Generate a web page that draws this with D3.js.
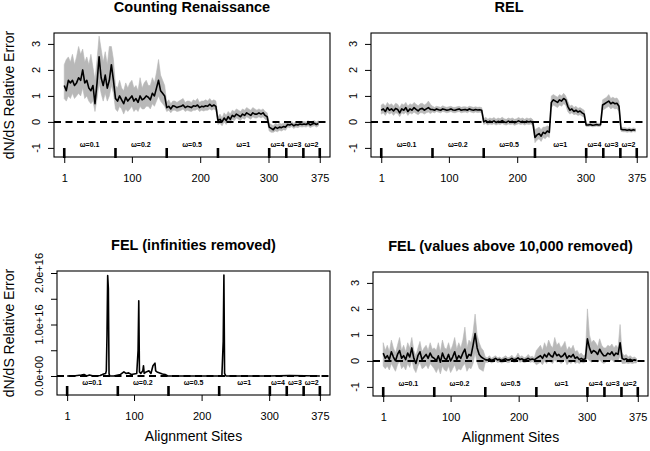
<!DOCTYPE html>
<html><head><meta charset="utf-8">
<script src="https://cdn.jsdelivr.net/npm/d3@7"></script>
<style>body{margin:0;background:#fff}svg{display:block;font-family:"Liberation Sans",Arial,Helvetica,sans-serif}</style>
</head><body><svg id="c" width="650" height="451"></svg>
<script>
// ---- data ----
const sites = d3.range(1, 376, 3); // 125 sampled alignment sites
const xTickSites = [1, 100, 200, 300, 375];
const boundarySites = [1, 76, 151, 226, 301, 326, 351, 375];
const omegaLabels = ["ω=0.1", "ω=0.2", "ω=0.5", "ω=1", "ω=4", "ω=3", "ω=2"];
const omegaMidSites = [38, 113, 188, 263, 313, 338, 363];
const yTicks = [-1, 0, 1, 2, 3];
const felTicks = [0, 0.5e16, 1e16, 1.5e16, 2e16];
const felTickLabels = ["0.0e+00", "", "1.0e+16", "", "2.0e+16"];
const titles = ["Counting Renaissance", "REL", "FEL (infinities removed)", "FEL (values above 10,000 removed)"];

// Counting Renaissance
const crMed = [1.4,1.2,1.6,1.5,1.6,1.4,1.5,1.7,1.6,2.0,1.5,1.6,1.3,1.2,1.4,0.7,1.5,2.5,1.7,1.4,1.8,1.3,1.6,2.2,1.6,
 0.9,0.8,1.0,0.85,0.7,0.95,0.8,0.9,1.0,0.8,0.9,0.75,1.0,0.85,0.9,1.0,0.95,0.85,1.1,1.0,1.3,1.6,1.2,1.1,1.0,
 0.55,0.6,0.5,0.62,0.6,0.55,0.58,0.6,0.65,0.55,0.6,0.58,0.55,0.62,0.6,0.65,0.55,0.6,0.58,0.62,0.6,0.68,0.6,0.65,0.6,
 0.05,0.1,0.0,0.15,0.05,0.2,0.1,0.25,0.2,0.3,0.25,0.2,0.3,0.25,0.35,0.3,0.25,0.35,0.3,0.3,0.35,0.3,0.35,0.25,0.2,
 -0.2,-0.25,-0.3,-0.2,-0.25,-0.2,-0.22,-0.18,-0.2,
 -0.1,-0.12,-0.08,-0.15,-0.1,-0.12,-0.08,-0.1,
 -0.08,-0.1,-0.05,-0.12,-0.08,-0.05,-0.1,-0.06];
const crHigh = [2.2,2.4,2.5,2.3,2.6,2.2,2.5,2.9,2.6,2.8,2.3,2.5,2.2,2.6,2.1,1.6,2.4,3.3,2.8,2.3,2.7,2.2,2.9,2.9,2.4,
 1.4,1.3,1.6,1.3,1.2,1.5,1.3,1.5,1.6,1.3,1.4,1.2,1.7,1.3,1.5,1.6,1.4,1.4,1.7,1.5,1.9,2.4,1.8,1.6,1.4,
 0.75,0.85,0.7,0.8,0.8,0.75,0.8,0.85,0.9,0.75,0.8,0.8,0.75,0.85,0.8,0.9,0.75,0.8,0.8,0.85,0.8,0.9,0.8,0.85,0.8,
 0.2,0.3,0.15,0.35,0.25,0.4,0.3,0.45,0.4,0.5,0.45,0.4,0.5,0.45,0.55,0.5,0.45,0.55,0.5,0.45,0.5,0.45,0.5,0.4,0.35,
 -0.05,-0.1,-0.15,-0.05,-0.1,-0.05,-0.08,-0.05,-0.05,
 0.0,-0.02,0.02,-0.05,0.0,-0.02,0.02,0.0,
 0.02,0.0,0.05,-0.02,0.02,0.05,0.0,0.04];
const crLow = [0.9,0.8,1.0,0.9,1.1,0.9,1.0,1.1,1.0,1.3,0.9,1.0,0.8,0.7,0.8,0.4,0.9,1.5,1.1,0.8,1.1,0.8,1.0,1.4,1.1,
 0.5,0.4,0.6,0.5,0.3,0.5,0.4,0.5,0.6,0.4,0.5,0.4,0.6,0.5,0.5,0.6,0.6,0.5,0.7,0.6,0.8,1.0,0.8,0.7,0.6,
 0.4,0.45,0.35,0.45,0.45,0.4,0.42,0.45,0.5,0.4,0.45,0.42,0.4,0.45,0.45,0.5,0.4,0.45,0.42,0.45,0.45,0.5,0.45,0.5,0.45,
 -0.1,-0.05,-0.15,0.0,-0.1,0.05,-0.05,0.1,0.05,0.15,0.1,0.05,0.15,0.1,0.2,0.15,0.1,0.2,0.15,0.15,0.2,0.15,0.2,0.1,0.05,
 -0.35,-0.4,-0.4,-0.35,-0.38,-0.32,-0.35,-0.3,-0.32,
 -0.2,-0.22,-0.18,-0.25,-0.2,-0.22,-0.18,-0.2,
 -0.18,-0.2,-0.15,-0.22,-0.18,-0.15,-0.2,-0.16];

// REL
const relMed = [0.45,0.5,0.4,0.55,0.45,0.5,0.42,0.52,0.48,0.35,0.5,0.45,0.55,0.4,0.5,0.45,0.55,0.48,0.42,0.5,0.52,0.45,0.5,0.55,0.48,
 0.48,0.45,0.5,0.47,0.45,0.5,0.48,0.45,0.47,0.5,0.46,0.45,0.48,0.5,0.45,0.47,0.48,0.45,0.5,0.47,0.45,0.48,0.46,0.47,0.45,
 0.0,0.05,-0.02,0.03,0.0,0.04,-0.02,0.02,0.0,0.05,0.0,-0.02,0.03,0.0,0.02,-0.03,0.0,0.04,0.0,0.02,-0.02,0.03,0.0,0.02,-0.05,
 -0.6,-0.5,-0.45,-0.55,-0.4,-0.45,-0.35,-0.4,0.75,0.85,0.8,0.75,0.85,0.8,0.9,0.85,0.6,0.45,0.5,0.4,0.45,0.38,0.42,0.35,0.3,
 -0.12,-0.12,-0.1,-0.13,-0.12,-0.1,-0.12,-0.11,0.65,
 0.7,0.75,0.8,0.7,0.75,0.7,0.72,0.6,
 -0.28,-0.3,-0.3,-0.32,-0.3,-0.33,-0.3,-0.32];
const relHigh = [0.65,0.7,0.6,0.75,0.65,0.7,0.6,0.72,0.68,0.55,0.7,0.65,0.75,0.6,0.7,0.65,0.75,0.68,0.62,0.7,0.72,0.65,0.7,0.8,0.68,
 0.6,0.56,0.6,0.58,0.56,0.62,0.58,0.56,0.58,0.6,0.56,0.56,0.58,0.6,0.56,0.58,0.58,0.56,0.6,0.58,0.56,0.58,0.56,0.57,0.55,
 0.12,0.18,0.1,0.15,0.12,0.17,0.1,0.15,0.12,0.18,0.12,0.1,0.15,0.12,0.15,0.1,0.12,0.17,0.12,0.15,0.1,0.15,0.12,0.15,0.08,
 -0.3,-0.25,-0.2,-0.3,-0.2,-0.2,-0.15,-0.2,1.0,1.05,1.0,0.95,1.05,1.0,1.1,1.0,0.8,0.6,0.65,0.55,0.6,0.52,0.55,0.5,0.45,
 -0.05,-0.06,-0.04,-0.06,-0.05,-0.04,-0.05,-0.05,0.85,
 0.9,0.95,1.05,0.9,0.95,0.9,0.92,0.8,
 -0.2,-0.22,-0.22,-0.25,-0.22,-0.26,-0.23,-0.25];
const relLow = [0.3,0.35,0.25,0.38,0.3,0.35,0.25,0.35,0.32,0.2,0.35,0.3,0.38,0.25,0.35,0.3,0.38,0.32,0.28,0.35,0.35,0.3,0.35,0.38,0.32,
 0.38,0.35,0.4,0.37,0.35,0.4,0.38,0.35,0.37,0.4,0.36,0.35,0.38,0.4,0.35,0.37,0.38,0.35,0.4,0.37,0.35,0.38,0.36,0.37,0.35,
 -0.1,-0.06,-0.12,-0.08,-0.1,-0.07,-0.12,-0.08,-0.1,-0.06,-0.1,-0.12,-0.08,-0.1,-0.08,-0.13,-0.1,-0.07,-0.1,-0.08,-0.12,-0.08,-0.1,-0.08,-0.15,
 -0.8,-0.7,-0.65,-0.75,-0.6,-0.65,-0.55,-0.6,0.55,0.65,0.6,0.55,0.65,0.6,0.7,0.65,0.4,0.3,0.35,0.28,0.3,0.25,0.28,0.22,0.18,
 -0.18,-0.18,-0.16,-0.19,-0.18,-0.16,-0.18,-0.17,0.45,
 0.5,0.55,0.6,0.5,0.55,0.5,0.52,0.4,
 -0.36,-0.38,-0.38,-0.4,-0.38,-0.4,-0.37,-0.39];

// FEL (infinities removed): sparse sites with their values
const felInfSites = [1,10,22,26,30,34,40,50,55,58,59,60,61,62,63,64,70,80,85,88,92,96,100,104,106,107,108,110,113,114,115,118,122,125,128,131,132,134,138,142,146,150,160,200,230,232,233,234,236,260,300,330,375];
const felInfVals = [0,0,0.02e16,0.03e16,0,0.02e16,0,0.01e16,0.04e16,0.05e16,0.1e16,0.8e16,1.95e16,1.7e16,0.05e16,0,0,0.03e16,0.08e16,0.05e16,0.06e16,0.03e16,0.04e16,0.05e16,0.5e16,1.46e16,0.08e16,0.05e16,0.1e16,0.2e16,0.05e16,0.08e16,0.1e16,0.05e16,0.2e16,0.25e16,0.1e16,0.08e16,0.06e16,0.04e16,0.03e16,0,0,0,0,0.68e16,1.96e16,0.05e16,0,0,0,0.01e16,0];

// FEL (values above 10,000 removed)
const fel10Med = [0.3,0.1,0.2,0.05,0.35,0.15,0.0,0.25,0.4,0.1,0.2,0.05,0.3,0.15,0.5,0.1,-0.1,0.2,0.35,0.05,0.15,0.25,0.1,0.3,0.15,
 0.1,0.0,0.2,-0.05,0.3,0.1,0.05,0.25,0.0,0.15,0.35,0.05,0.2,0.1,0.3,0.45,0.1,0.25,0.2,0.6,1.05,0.5,0.25,0.15,0.1,
 0.05,0.03,0.08,0.02,0.05,0.1,0.04,0.06,0.02,0.05,0.08,0.03,0.05,0.1,0.04,0.06,0.12,0.05,0.08,0.03,0.06,0.1,0.05,0.07,0.04,
 0.1,0.15,0.2,0.1,0.25,0.15,0.3,0.2,0.15,0.35,0.2,0.25,0.15,0.2,0.3,0.1,0.2,0.15,0.25,0.1,0.15,0.05,0.1,0.05,0.08,
 0.85,0.5,0.3,0.4,0.35,0.25,0.45,0.3,0.2,
 0.2,0.3,0.25,0.35,0.2,0.3,0.25,0.7,
 0.1,0.05,0.08,0.03,0.06,0.02,0.04,0.02];
const fel10High = [0.7,0.4,0.6,0.35,0.8,0.5,0.3,0.6,0.9,0.4,0.6,0.35,0.7,0.5,0.9,0.4,0.2,0.5,0.75,0.35,0.5,0.6,0.4,0.7,0.45,
 0.5,0.4,0.7,0.35,0.8,0.5,0.45,0.7,0.4,0.6,0.9,0.45,0.7,0.5,0.8,1.3,0.5,0.8,0.7,1.1,1.8,1.0,0.7,0.5,0.4,
 0.15,0.12,0.2,0.1,0.15,0.2,0.12,0.15,0.1,0.15,0.2,0.12,0.15,0.22,0.12,0.15,0.3,0.15,0.2,0.12,0.15,0.25,0.15,0.18,0.12,
 0.4,0.5,0.6,0.4,0.7,0.5,0.8,0.6,0.5,0.9,0.6,0.7,0.5,0.6,0.75,0.4,0.55,0.45,0.6,0.35,0.4,0.25,0.3,0.2,0.25,
 2.0,1.0,0.7,0.8,0.7,0.55,0.85,0.6,0.5,
 0.5,0.6,0.55,0.65,0.5,0.6,0.5,1.4,
 0.3,0.2,0.25,0.15,0.2,0.12,0.15,0.1];
const fel10Low = [-0.2,-0.3,-0.2,-0.35,-0.1,-0.25,-0.4,-0.15,0.0,-0.3,-0.2,-0.35,-0.1,-0.25,0.05,-0.3,-0.45,-0.2,-0.05,-0.3,-0.25,-0.15,-0.3,-0.1,-0.2,
 -0.3,-0.45,-0.25,-0.5,-0.2,-0.35,-0.4,-0.2,-0.45,-0.3,-0.15,-0.4,-0.3,-0.35,-0.2,-0.1,-0.4,-0.25,-0.3,-0.1,0.3,-0.05,-0.3,-0.35,-0.4,
 -0.05,-0.06,-0.02,-0.08,-0.05,0.0,-0.06,-0.04,-0.08,-0.05,-0.02,-0.07,-0.05,0.0,-0.06,-0.04,0.0,-0.05,-0.02,-0.07,-0.04,0.0,-0.05,-0.03,-0.06,
 -0.15,-0.1,-0.05,-0.15,0.0,-0.1,0.05,-0.05,-0.1,0.05,-0.05,0.0,-0.1,-0.05,0.05,-0.15,-0.05,-0.1,0.0,-0.1,-0.05,-0.1,-0.05,-0.08,-0.05,
 0.1,0.0,-0.05,0.0,0.0,-0.05,0.05,-0.05,-0.1,
 -0.05,0.05,0.0,0.05,-0.05,0.0,0.0,0.2,
 -0.1,-0.1,-0.08,-0.1,-0.08,-0.1,-0.08,-0.08];

// ---- drawing ----
const svg = d3.select("#c");
svg.append("rect").attr("width", 650).attr("height", 451).attr("fill", "#fff");
const xDomain = [-14, 390];
const BAND = "#b8b8b8";

function drawPanel(p) {
  const x = d3.scaleLinear().domain(xDomain).range([p.left, p.left + p.w]);
  const y = d3.scaleLinear().domain(p.yDomain).range([p.top + p.h, p.top]);
  const bottom = p.top + p.h;
  const g = svg.append("g");
  const clipId = "clip" + p.id;
  g.append("clipPath").attr("id", clipId).append("rect")
    .attr("x", p.left).attr("y", p.top).attr("width", p.w).attr("height", p.h);
  const plot = g.append("g").attr("clip-path", `url(#${clipId})`);

  const rows = p.sites.map((s, i) => ({ s, m: p.med[i], lo: p.low ? p.low[i] : null, hi: p.high ? p.high[i] : null }));
  if (p.low) {
    plot.append("path").datum(rows)
      .attr("d", d3.area().x(d => x(d.s)).y0(d => y(d.lo)).y1(d => y(d.hi)))
      .attr("fill", BAND).attr("stroke", BAND).attr("stroke-width", 0.6);
  }
  plot.append("path").datum(rows)
    .attr("d", d3.line().x(d => x(d.s)).y(d => y(d.m)))
    .attr("fill", "none").attr("stroke", "#000").attr("stroke-width", 1.6).attr("stroke-linejoin", "round");
  plot.append("line")
    .attr("x1", p.left).attr("x2", p.left + p.w).attr("y1", y(0)).attr("y2", y(0))
    .attr("stroke", "#000").attr("stroke-width", 2).attr("stroke-dasharray", "7,4.5");

  // box
  g.append("rect").attr("x", p.left).attr("y", p.top).attr("width", p.w).attr("height", p.h)
    .attr("fill", "none").attr("stroke", "#000").attr("stroke-width", 1.1);

  // bottom axis (ticks + labels)
  const ax = g.append("g").attr("transform", `translate(0,${bottom})`)
    .call(d3.axisBottom(x).tickValues(xTickSites).tickSize(6).tickPadding(11).tickFormat(d3.format("d")));
  ax.select(".domain").remove();
  ax.selectAll("line").attr("stroke", "#000");
  ax.selectAll("text").attr("font-size", 11).attr("font-family", null).attr("fill", "#000");

  // boundary ticks
  g.selectAll(".bt").data(boundarySites).join("line")
    .attr("x1", d => x(d)).attr("x2", d => x(d)).attr("y1", bottom - 9).attr("y2", bottom + 1)
    .attr("stroke", "#000").attr("stroke-width", 2.6);
  // omega labels
  g.selectAll(".om").data(omegaLabels).join("text")
    .attr("x", (d, i) => x(omegaMidSites[i])).attr("y", bottom - 10)
    .attr("text-anchor", "middle").attr("font-size", 7).attr("font-weight", "bold").text(d => d);

  // left axis
  const ay = g.append("g").attr("transform", `translate(${p.left},0)`)
    .call(d3.axisLeft(y).tickValues(p.yTicks).tickSize(6).tickFormat(""));
  ay.select(".domain").remove();
  ay.selectAll("line").attr("stroke", "#000");
  g.selectAll(".yl").data(p.yTicks).join("text")
    .attr("transform", d => `translate(${p.left - 14},${y(d)}) rotate(-90)`)
    .attr("text-anchor", "middle").attr("font-size", 11).text((d, i) => p.yLabels[i]);

  // title
  g.append("text").attr("x", p.left + p.w / 2).attr("y", p.top - 21)
    .attr("text-anchor", "middle").attr("font-size", 14.5).attr("font-weight", "bold").text(p.title);
  if (p.ylab) {
    g.append("text").attr("transform", `translate(14,${p.top + p.h / 2}) rotate(-90)`)
      .attr("text-anchor", "middle").attr("font-size", 14).text("dN/dS Relative Error");
  }
  if (p.xlab) {
    g.append("text").attr("x", p.left + p.w / 2).attr("y", bottom + 46)
      .attr("text-anchor", "middle").attr("font-size", 14).text("Alignment Sites");
  }
}

const yDom = [-1.35, 3.42];
drawPanel({ id: 1, title: titles[0], left: 54, top: 33, w: 276, h: 124, yDomain: yDom, yTicks: yTicks, yLabels: yTicks.map(String),
  sites: sites, med: crMed, low: crLow, high: crHigh, ylab: true });
drawPanel({ id: 2, title: titles[1], left: 371, top: 33, w: 276, h: 124, yDomain: yDom, yTicks: yTicks, yLabels: yTicks.map(String),
  sites: sites, med: relMed, low: relLow, high: relHigh });
drawPanel({ id: 3, title: titles[2], left: 57, top: 271, w: 273, h: 124, yDomain: [-0.369e16, 2.039e16], yTicks: felTicks, yLabels: felTickLabels,
  sites: felInfSites, med: felInfVals, ylab: true, xlab: true });
drawPanel({ id: 4, title: titles[3], left: 373, top: 272, w: 275, h: 124, yDomain: yDom, yTicks: yTicks, yLabels: yTicks.map(String),
  sites: sites, med: fel10Med, low: fel10Low, high: fel10High, xlab: true });
</script></body></html>
